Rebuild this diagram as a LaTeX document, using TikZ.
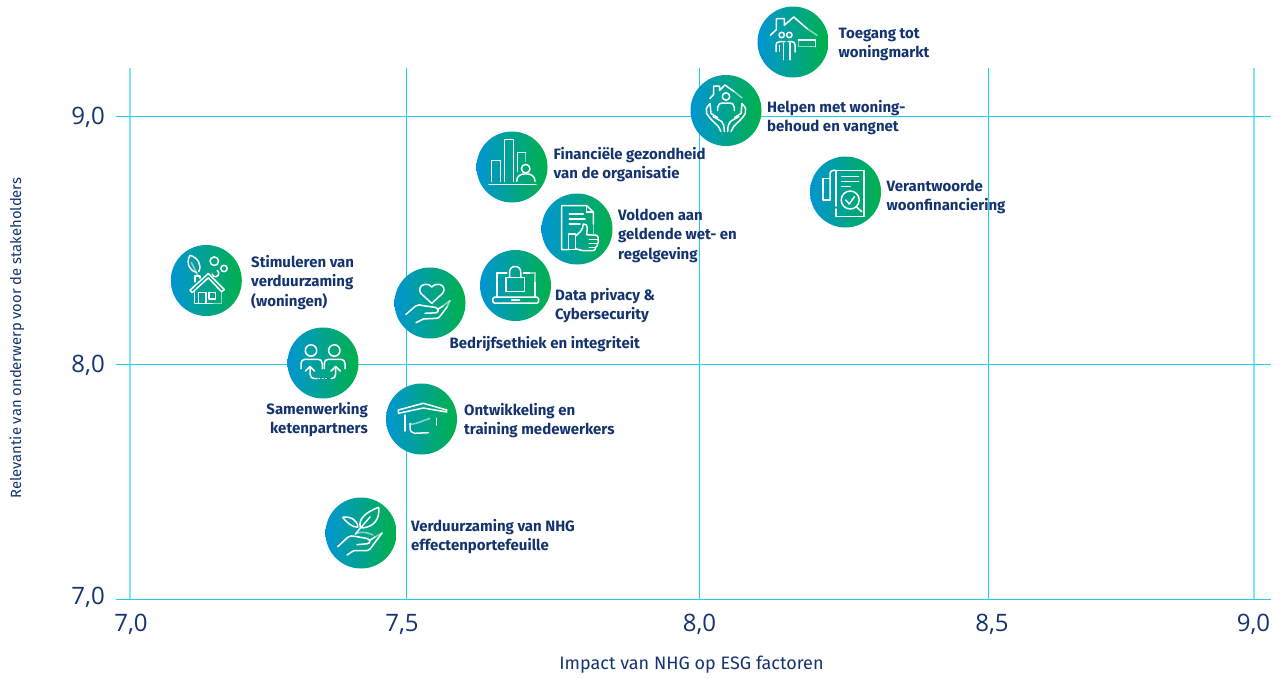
\documentclass[tikz,border=0pt]{standalone}
\usepackage{fontspec}
\setmainfont{Fira Sans}
\newfontfamily\tickfont{Open Sans}
\newfontfamily\axisfont{Fira Sans}
\definecolor{navy}{HTML}{14336F}
\definecolor{gridc}{HTML}{22CFE2}
\definecolor{gridl}{HTML}{80E3EE}
\definecolor{gblue}{HTML}{0095D3}
\definecolor{ggreen}{HTML}{00B14A}
\tikzset{
  bubble/.style={circle,minimum size=71pt,inner sep=0pt,left color=gblue,right color=ggreen,draw=none},
  lbl/.style={text=navy,inner sep=0pt,yshift=-0.7pt,font=\bfseries\fontsize{15}{19.4}\selectfont,align=left},
  lblr/.style={lbl,align=right},
  ticklbl/.style={text=navy,inner sep=0pt,font=\tickfont\fontsize{24}{26}\selectfont},
  axislbl/.style={text=navy,inner sep=0pt,font=\axisfont\fontsize{18}{20}\selectfont},
  axislbly/.style={text=navy,inner sep=0pt,font=\axisfont\fontsize{14.8}{17}\selectfont},
  gridline/.style={draw=gridc,line width=1pt},
  gridlight/.style={draw=gridl,line width=1.5pt},
  ico/.style={draw=white,line width=1.5pt,line join=round,line cap=round},
  icof/.style={draw=white,line width=1.5pt,line cap=round,opacity=.55},
}
\begin{document}
\begin{tikzpicture}[x=1pt,y=-1pt]
\useasboundingbox (0,0) rectangle (1282,678);
% grid
\draw[gridlight] (130,68) -- (130,600);
\draw[gridline] (406.5,68) -- (406.5,600);
\draw[gridline] (699.5,68) -- (699.5,600);
\draw[gridline] (988.5,68) -- (988.5,600);
\draw[gridlight] (1254,68) -- (1254,600);
\draw[gridline] (116,116.5) -- (1271,116.5);
\draw[gridline] (116,364.5) -- (1271,364.5);
\draw[gridline] (116,599.5) -- (1271,599.5);
% ticks
\node[ticklbl,anchor=east] (y9) at (105,117.5) {9,0};
\node[ticklbl,anchor=east] (y8) at (105,365.5) {8,0};
\node[ticklbl,anchor=east] (y7) at (105,597) {7,0};
\node[ticklbl] (x70) at (131,624.5) {7,0};
\node[ticklbl] (x75) at (402,624.5) {7,5};
\node[ticklbl] (x80) at (699.5,624.5) {8,0};
\node[ticklbl] (x85) at (992,624.5) {8,5};
\node[ticklbl] (x90) at (1253.5,624.5) {9,0};
\node[axislbl] (xt) at (691.5,665) {Impact van NHG op ESG factoren};
\node[axislbly,rotate=90] (yt) at (17,338) {Relevantie van onderwerp voor de stakeholders};
% labels
\node[lbl,anchor=west] (l1) at (838.5,43.5) {Toegang tot\\woningmarkt};
\node[lbl,anchor=west] (l2) at (767,117) {Helpen met woning-\\behoud en vangnet};
\node[lbl,anchor=west] (l3) at (886.5,196) {Verantwoorde\\woonfinanciering};
\node[lbl,anchor=west] (l4) at (553.5,164) {Financiële gezondheid\\van de organisatie};
\node[lbl,anchor=west] (l5) at (618,235) {Voldoen aan\\geldende wet- en\\regelgeving};
\node[lbl,anchor=west] (l6) at (555,305) {Data privacy \&\\Cybersecurity};
\node[lbl,anchor=west] (l7) at (251,281.5) {Stimuleren van\\verduurzaming\\(woningen)};
\node[lbl,anchor=west] (l8) at (449.5,343.5) {Bedrijfsethiek en integriteit};
\node[lblr,anchor=east] (l9) at (368,419) {Samenwerking\\ketenpartners};
\node[lbl,anchor=west] (l10) at (464,420) {Ontwikkeling en\\training medewerkers};
\node[lbl,anchor=west] (l11) at (411,536) {Verduurzaming van NHG\\effectenportefeuille};
% bubbles
\node[bubble] (b1) at (793,42) {};
\node[bubble] (b2) at (726,110.5) {};
\node[bubble] (b3) at (845.5,192) {};
\node[bubble] (b4) at (512,167) {};
\node[bubble] (b5) at (577,229) {};
\node[bubble] (b6) at (515.5,285.5) {};
\node[bubble] (b7) at (206.3,280.5) {};
\node[bubble] (b8) at (430,303) {};
\node[bubble] (b9) at (323,363) {};
\node[bubble] (b10) at (421.5,419) {};
\node[bubble] (b11) at (361,533) {};
% icon 1: house with people
\begin{scope}[shift={(b1.center)}]
\draw[ico] (-22.7,-6.7) -- (-16.7,-12.3) -- (-16.7,-23.3) -- (-8.7,-23.3) -- (-8.7,-16.7) -- (0.7,-25) -- (14,-13.5);
\draw[icof] (14,-13.5) -- (24,-6.7);
\draw[ico] (-11.3,-7) circle (2.7);
\draw[ico] (-3.7,-7) circle (2.7);
\draw[ico] (-17,9.7) -- (-17,3) .. controls (-17,1) and (-15.5,-0.3) .. (-13.5,-0.3) -- (-8,-0.3);
\draw[ico] (-5,-0.3) -- (-1,-0.3) .. controls (1,-0.3) and (2,1) .. (2,3) -- (2,10);
\draw[ico] (-13.5,3.5) -- (-13.5,9);
\draw[ico] (-9.3,1) -- (-9.3,17.7);
\draw[ico] (-3,1) -- (-3,17.7);
\draw[ico] (5.3,-2) -- (22.7,-2) -- (22.7,4.7);
\draw[icof] (22.7,4.7) -- (5.3,4.7) -- (5.3,-2);
\end{scope}
% icon 2: hands with person and house
\begin{scope}[shift={(b2.center)}]
\draw[ico] (-16,-12) -- (-12.5,-16) -- (-12.5,-24.3) -- (-6.5,-24.3) -- (-6.5,-20) -- (-1,-25.5) -- (8,-19);
\draw[icof] (8,-19) -- (16,-12.7);
\draw[ico] (0,-14) circle (3.7);
\draw[ico] (-8.3,0) -- (-8.3,-3) .. controls (-8.3,-6) and (-6,-7.5) .. (-4,-7.5) -- (4,-7.5) .. controls (6,-7.5) and (8.3,-6) .. (8.3,-3) -- (8.3,0);
\foreach \s in {1,-1}{
\begin{scope}[xscale=\s]
\draw[ico] (-16,-7) .. controls (-20,-3) and (-20.5,0) .. (-19.3,3) .. controls (-16,9) and (-11,12) .. (-7.7,16) -- (-5,21);
\draw[ico] (-16,-7) -- (-15,3) -- (-8.5,7);
\draw[ico] (-13,6) -- (-4.3,11) .. controls (-2.5,13) and (-1.7,16) .. (-1.7,21);
\end{scope}}
\end{scope}
% icon 3: document with magnifier
\begin{scope}[shift={(b3.center)}]
\draw[ico] (-9.7,14) -- (-9.7,-21.7) -- (18.7,-21.7) -- (18.7,24.7) -- (-9.7,24.7) -- (-9.7,17);
\draw[ico] (-9.7,-21.7) -- (-12,-21.7) .. controls (-14.5,-21.7) and (-15.5,-20) .. (-15.5,-18) -- (-15.5,8);
\draw[ico] (-15.5,-13.7) -- (-22.7,-13.7) -- (-22.7,8) -- (-15.5,8);
\draw[ico] (-3.7,-15.3) -- (13,-15.3);
\draw[ico] (-3.7,-10.3) -- (13,-10.3);
\draw[ico] (-3.7,-5.3) -- (4.7,-5.3);
\draw[ico] (4.7,8) circle (9);
\draw[ico] (10.7,14.7) -- (16.3,19.7);
\draw[ico] (0.3,8) -- (3.7,12) -- (9,4.7);
\end{scope}
% icon 4: bars with person
\begin{scope}[shift={(b4.center)}]
\draw[ico] (-23,17.7) -- (24,17.7);
\draw[ico] (-20.3,14.3) -- (-20.3,-6.3) -- (-11.3,-6.3) -- (-11.3,14.3);
\draw[ico] (-7.7,14.3) -- (-7.7,-27.3) -- (1.3,-27.3) -- (1.3,14.3);
\draw[ico] (5.3,4.3) -- (5.3,-14.7) -- (13.7,-14.7);
\draw[icof] (13.7,-14.7) -- (13.7,-5.7);
\draw[ico] (13.7,1.7) circle (4.3);
\draw[ico] (4.7,14.3) .. controls (4.7,9) and (8.5,6.8) .. (13.7,6.8) .. controls (19,6.8) and (23,9) .. (23,14.3);
\end{scope}
% icon 5: document with thumb
\begin{scope}[shift={(b5.center)}]
\draw[ico] (-8.3,20.7) -- (-15.3,20.7) -- (-15.3,-23.3) -- (9.7,-23.3) -- (16.3,-17) -- (16.3,-5);
\draw[icof] (16.3,-5) -- (16.3,5);
\draw[ico] (9.7,-23.3) -- (9.7,-17) -- (16.3,-17);
\draw[ico] (-7.7,-15) -- (6.3,-15);
\draw[ico] (-7.7,-10) -- (8,-10);
\draw[ico] (-7.7,-5) -- (3,-5);
\draw[ico] (-8.3,5) -- (-1.7,5) -- (-1.7,20.7) -- (-8.3,20.7) -- cycle;
\draw[ico] (-1.7,7.3) -- (3.5,2.5) .. controls (5.5,0) and (6,-2) .. (6.3,-5) .. controls (9,-5.5) and (10.5,-3.5) .. (10.3,-1) -- (9.7,5.7) -- (19.7,6.3) .. controls (21.5,7) and (21.5,10) .. (21,10.7) .. controls (22,12) and (21.5,14) .. (20.5,14.7) .. controls (21,16) and (20,18) .. (18.5,18.5) .. controls (19,20) and (17.5,21.7) .. (16,21.7) -- (6,21.7) -- (-1.7,19.7);
\draw[ico] (12.3,10.7) -- (21,10.7);
\draw[ico] (12.3,14.7) -- (20.5,14.7);
\draw[ico] (12.3,18.5) -- (18.5,18.5);
\end{scope}
% icon 6: laptop with lock
\begin{scope}[shift={(b6.center)}]
\draw[ico] (-18.7,11) -- (-18.7,-12.3) -- (-8.7,-12.3);
\draw[ico] (8,-12.3) -- (14,-12.3);
\draw[icof] (14,-12.3) -- (19.7,-12.3) -- (19.7,-3);
\draw[ico] (19.7,-3) -- (19.7,11);
\draw[ico,rounded corners=1.5pt] (-22.7,11.7) rectangle (23,17.7);
\draw[ico] (-3.7,14.3) -- (4,14.3);
\draw[ico] (-9.7,-8) rectangle (9,6);
\draw[ico] (-6,-8) -- (-6,-13) .. controls (-6,-17) and (-3.5,-19) .. (-0.3,-19) .. controls (3,-19) and (5.3,-17) .. (5.3,-13) -- (5.3,-8);
\end{scope}
% icon 7: house with leaf
\begin{scope}[shift={(b7.center)}]
\draw[ico] (-16.3,9.7) -- (-14,12) -- (2,-2.7) -- (15.3,11.3) -- (18,9) -- (2,-7) -- cycle;
\draw[ico] (-11.3,1.3) -- (-11.3,-4.7) -- (-6.3,-4.7) -- (-6.3,-2.5);
\draw[ico] (-12,10.7) -- (-12,23) -- (6,23);
\draw[icof] (6,23) -- (15.3,23) -- (15.3,11.3);
\draw[ico] (-8,23) -- (-8,12) -- (-0.3,12) -- (-0.3,23);
\draw[ico] (2.7,12) rectangle (9.3,18.7);
\draw[ico] (-9.7,-8) .. controls (-16,-9) and (-21,-17) .. (-16.3,-25.3) .. controls (-9,-23) and (-4,-16) .. (-7.5,-9);
\draw[icof] (-15,-18) -- (-8.5,-5);
\draw[ico] (8,-19.3) circle (4.3);
\draw[ico] (17.7,-12) circle (3.2);
\draw[ico] (5.8,-6.5) arc (170:-60:3.4);
\end{scope}
% icon 8: hand with heart
\begin{scope}[shift={(b8.center)}]
\draw[ico] (1.7,0.3) -- (-9,-9.5) .. controls (-12,-13) and (-10,-18) .. (-5,-18.7) .. controls (-2,-19) and (0.5,-18) .. (1.7,-16) .. controls (3,-18) and (6,-19) .. (9,-18.7) .. controls (14,-18) and (15.5,-13) .. (12.5,-9.5) -- cycle;
\draw[ico] (-24,11.3) -- (-15,3.5) .. controls (-12,1.5) and (-9,1.5) .. (-6.7,2.7) -- (5,4.3) .. controls (8.5,5) and (9.5,9) .. (6,9.8) -- (-5,10.3);
\draw[ico] (7.5,6.5) -- (13,3);
\draw[icof] (13,3) -- (20,-2.3);
\draw[icof] (20,-2.3) -- (17,4);
\draw[ico] (17,4) -- (11,12) .. controls (9.5,14.5) and (8,15.3) .. (6.7,15.3) -- (-6.7,16) -- (-14,19.7);
\end{scope}
% icon 9: two people with arrows
\begin{scope}[shift={(b9.center)}]
\draw[ico] (-12,-12.5) circle (5.7);
\draw[ico] (11.3,-12.5) circle (5.7);
\draw[ico] (-22,5.7) -- (-22,0.7) .. controls (-22,-2) and (-20.5,-3.7) .. (-18,-3.7) -- (-5.7,-3.7) .. controls (-2.5,-3.7) and (-0.7,-2) .. (-0.7,0.7) -- (-0.7,5.7);
\draw[ico] (22,5.7) -- (22,0.7) .. controls (22,-2) and (20.5,-3.7) .. (18,-3.7) -- (5.3,-3.7) .. controls (2.8,-3.7) and (1.3,-2) .. (1.3,0.7) -- (1.3,5.7);
\draw[ico] (-17.5,8) -- (-13,3.5) -- (-8.5,8);
\draw[ico] (-13,3.5) -- (-13,11) .. controls (-13,14) and (-11,15.7) .. (-8,15.7) -- (-6,15.7);
\draw[ico] (8,8) -- (12.7,3.5) -- (17.3,8);
\draw[ico] (12.7,3.5) -- (12.7,11) .. controls (12.7,14) and (11,15.7) .. (8,15.7);
\draw[ico] (-4,15.3) -- (-3.4,15.3);
\draw[ico] (-0.6,15.3) -- (0,15.3);
\draw[ico] (2.8,15.3) -- (3.4,15.3);
\end{scope}
% icon 10: graduation cap
\begin{scope}[shift={(b10.center)}]
\draw[ico] (-23.2,-9) -- (1.8,-15.7) -- (25.2,-9) -- (25.2,-7) -- (1.8,-11) -- (-23.2,-5.7) -- cycle;
\draw[ico] (-16.5,-4) -- (-16.5,12);
\draw[ico] (-11.5,4.3) -- (-11.5,9) .. controls (-11.5,12.5) and (-9,14.3) .. (-6.5,14.3) -- (6.8,13.7);
\draw[icof] (-11.5,5.5) .. controls (-4,5) and (2,1) .. (8.5,-0.5);
\draw[ico] (15,-0.7) -- (15,6);
\end{scope}
% icon 11: hand with plant
\begin{scope}[shift={(b11.center)}]
\draw[ico] (-0.7,-5.7) .. controls (-3,-14) and (5,-21) .. (17.7,-25.7) .. controls (19,-14) and (13,-6) .. (1,-5);
\draw[ico] (-3.3,-5.7) .. controls (-9,-6) and (-14,-10) .. (-18.3,-15.7) .. controls (-11,-17) and (-3,-13) .. (-3.3,-5.7);
\draw[ico] (9,-16) -- (-5.7,1);
\draw[icof] (-5.7,1) .. controls (-1,-2) and (6,-1) .. (12,2);
\draw[ico] (-23.3,13.7) -- (-14,5) .. controls (-11,2.5) and (-8,2.5) .. (-5,3.5) -- (6,5.5) .. controls (9.5,6.5) and (10,10) .. (6.5,10.7) -- (-4,11.7);
\draw[ico] (8.5,7.5) -- (14,4);
\draw[icof] (14,4) -- (21,0);
\draw[ico] (21,0) -- (12,12) .. controls (10,15) and (8,17.7) .. (6,17.7) -- (-7.3,17.7) -- (-14,22);
\end{scope}
\end{tikzpicture}
\end{document}
